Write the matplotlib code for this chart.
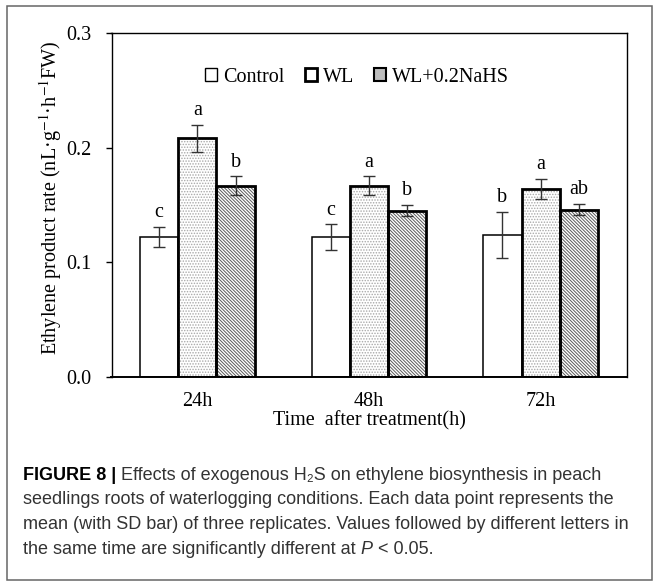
import matplotlib
matplotlib.use("Agg")
import matplotlib.pyplot as plt
import numpy as np
from matplotlib.patches import Rectangle, Patch

# data
times = ["24h", "48h", "72h"]
series = ["Control", "WL", "WL+0.2NaHS"]
control = [0.122, 0.122, 0.124]
control_sd = [0.009, 0.011, 0.020]
wl = [0.208, 0.167, 0.164]
wl_sd = [0.012, 0.008, 0.009]
nahs = [0.167, 0.145, 0.146]
nahs_sd = [0.008, 0.005, 0.005]
control_letters = ["c", "c", "b"]
wl_letters = ["a", "a", "a"]
nahs_letters = ["b", "b", "ab"]
yticks = [0.0, 0.1, 0.2, 0.3]

plt.rcParams["font.family"] = ["Liberation Serif", "DejaVu Serif"]
plt.rcParams["mathtext.fontset"] = "stix"
plt.rcParams["hatch.linewidth"] = 0.7

W, H = 659, 587
fig = plt.figure(figsize=(W / 100, H / 100), dpi=100)
ax = fig.add_axes([111.5 / W, 1 - 377 / H, 515 / W, 344 / H])

x = np.arange(len(times))
bw = 0.223
fs = 14.5

# control: plain white bars
ax.bar(x - bw, control, bw, color="white", edgecolor="black", linewidth=1.1, zorder=2)
# WL: grey dots, heavy black outline
ax.bar(x, wl, bw, color="white", edgecolor="#a8a8a8", hatch="......", linewidth=0, zorder=2)
ax.bar(x, wl, bw, fill=False, edgecolor="black", linewidth=2.0, zorder=3)
# WL+NaHS: dense diagonal hatch
ax.bar(x + bw, nahs, bw, color="white", edgecolor="#5a5a5a", hatch="\\" * 10, linewidth=0, zorder=2)
ax.bar(x + bw, nahs, bw, fill=False, edgecolor="black", linewidth=2.0, zorder=3)

for off, vals, sds, lets in [(-bw, control, control_sd, control_letters),
                             (0, wl, wl_sd, wl_letters),
                             (bw, nahs, nahs_sd, nahs_letters)]:
    ax.errorbar(x + off, vals, yerr=sds, fmt="none", ecolor="#333333",
                elinewidth=1.0, capsize=4, capthick=1.0, zorder=4)
    for xi, v, s, l in zip(x + off, vals, sds, lets):
        ax.annotate(l, (xi, v + s), xytext=(0, 7), textcoords="offset points",
                    ha="center", va="baseline", fontsize=fs)

ax.set_xlim(-0.5, 2.5)
ax.set_ylim(0, 0.3)
ax.set_xticks(x)
ax.set_xticklabels(times, fontsize=fs)
ax.set_yticks(yticks)
ax.set_yticklabels([f"{t:.1f}" for t in yticks], fontsize=fs)
ax.tick_params(axis="x", length=0, pad=11)
ax.tick_params(axis="y", direction="out", length=4.5, width=1.0, pad=10)
for sp in ax.spines.values():
    sp.set_linewidth(1.0)
ax.spines["bottom"].set_linewidth(1.4)

fig.text(51 / W, 1 - 198 / H, "Ethylene product rate (nL·g$^{-1}$·h$^{-1}$FW)",
         rotation=90, ha="center", va="center", fontsize=fs)
fig.text(369 / W, 1 - 421 / H, "Time  after treatment(h)", ha="center", va="center", fontsize=fs)

handles = [
    Patch(facecolor="white", edgecolor="black", linewidth=1.0),
    Patch(facecolor="white", edgecolor="black", linewidth=2.0),
    Patch(facecolor="#bdbdbd", edgecolor="black", linewidth=1.5),
]
ax.legend(handles, series, loc="center", bbox_to_anchor=(0.477, 0.872), ncol=3,
          frameon=False, fontsize=fs, handlelength=0.6, handleheight=0.6,
          handletextpad=0.3, columnspacing=1.0)

# outer frame around the figure panel
fig.patches.append(Rectangle((7 / W, 1 - 580 / H), 645 / W, 574 / H, transform=fig.transFigure,
                             fill=False, edgecolor="#666666", linewidth=1.1))

# caption
renderer = fig.canvas.get_renderer()
sans = ["Liberation Sans", "DejaVu Sans"]


def draw_runs(y_px, runs):
    xf = 23 / W
    for s, kw in runs:
        style = {"family": sans, "fontsize": 13.0, "color": "#333333",
                 "va": "baseline", "ha": "left"}
        style.update(kw)
        t = fig.text(xf, 1 - y_px / H, s, **style)
        bb = t.get_window_extent(renderer)
        xf = fig.transFigure.inverted().transform((bb.x1, 0))[0]


draw_runs(480, [("FIGURE 8 |", {"weight": "bold", "color": "black"}),
                (" Effects of exogenous H₂S on ethylene biosynthesis in peach", {})])
draw_runs(504.5, [("seedlings roots of waterlogging conditions. Each data point represents the", {})])
draw_runs(529, [("mean (with SD bar) of three replicates. Values followed by different letters in", {})])
draw_runs(553.5, [("the same time are significantly different at", {}), (" P", {"style": "italic"}),
                  (" < 0.05.", {})])

fig.savefig("out.png", dpi=100)
